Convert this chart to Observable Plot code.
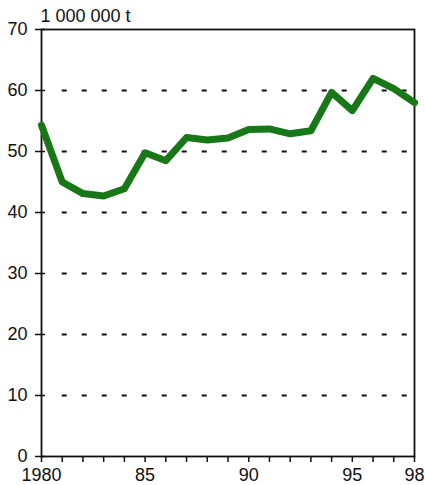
<!DOCTYPE html>
<html>
<head>
<meta charset="utf-8">
<script src="https://cdn.jsdelivr.net/npm/d3@7"></script>
<script src="https://cdn.jsdelivr.net/npm/@observablehq/plot@0.6"></script>
<style>
  body { margin: 0; background: #fff; }
  svg { font-family: "Liberation Sans", Arial, sans-serif; }
</style>
</head>
<body>
<div id="chart"></div>
<script>
const years = d3.range(1980, 1999);
const values = [54.3, 45.0, 43.1, 42.7, 43.9, 49.8, 48.5, 52.3, 51.9, 52.2, 53.6, 53.7, 52.9, 53.4, 59.7, 56.7, 62.0, 60.3, 58.0];
const yTicks = [0, 10, 20, 30, 40, 50, 60, 70];
const gridValues = [10, 20, 30, 40, 50, 60];
const xLabels = {1980: "1980", 1985: "85", 1990: "90", 1995: "95", 1998: "98"};
const unitLabel = "1 000 000 t";

const data = years.map((y, i) => ({year: y, value: values[i]}));

const chart = Plot.plot({
  width: 425,
  height: 485,
  marginLeft: 41,
  marginRight: 11,
  marginTop: 29,
  marginBottom: 29,
  style: {fontSize: "18px", fontFamily: "'Liberation Sans', Arial, sans-serif", color: "#111", background: "#fff"},
  x: {domain: [1980, 1998]},
  y: {domain: [0, 70]},
  marks: [
    Plot.ruleY(gridValues, {x1: 1981, x2: 1997.7, stroke: "#111", strokeWidth: 2, strokeDasharray: "5,15"}),
    Plot.frame({stroke: "#111", strokeWidth: 1.8}),
    Plot.axisY(yTicks, {tickSize: 6, tickPadding: 8, tickFormat: d => String(d), label: null, stroke: "#111", strokeWidth: 1.5}),
    Plot.axisY(yTicks, {tickSize: -4, text: null, label: null, stroke: "#111", strokeWidth: 1.5}),
    Plot.axisX(years, {tickSize: 6, tickPadding: 6, tickFormat: d => xLabels[d] ?? "", label: null, stroke: "#111", strokeWidth: 1.5}),
    Plot.line(data, {x: "year", y: "value", stroke: "#187818", strokeWidth: 7, strokeLinejoin: "round", strokeLinecap: "round"}),
    Plot.text([unitLabel], {frameAnchor: "top-left", text: d => d, dy: -20, dx: -1, textAnchor: "start", fontSize: 18, fill: "#111"})
  ]
});
document.getElementById("chart").appendChild(chart);
</script>
</body>
</html>
